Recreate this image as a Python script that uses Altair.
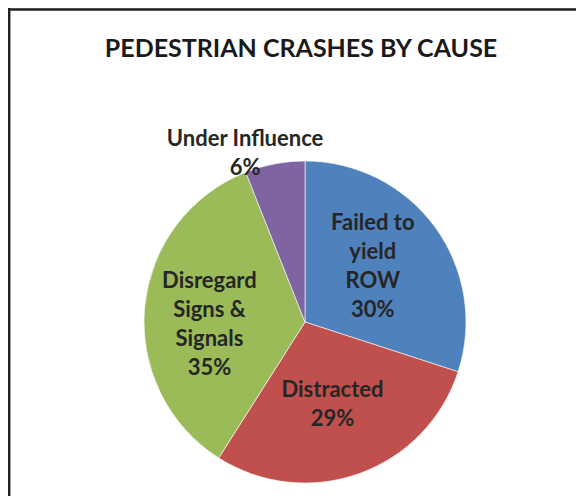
import altair as alt
import pandas as pd

causes = ["Failed to yield ROW", "Distracted", "Disregard Signs & Signals", "Under Influence"]
shares = [30, 29, 35, 6]
label_text = ["Failed to\nyield\nROW", "Distracted", "Disregard\nSigns &\nSignals", "Under Influence"]
colors = ["#4F81BD", "#C0504D", "#9BBB59", "#8064A2"]
order_idx = [0, 1, 2, 3]

df = pd.DataFrame({
    "cause": causes,
    "share": shares,
    "label": [f"{t}\n{s}%" for t, s in zip(label_text, shares)],
    "idx": order_idx,
})

W, H = 568, 488
CX, CY, R = 305 - 8, 322 - 8, 161
FONT = "Lato"

base = alt.Chart(df)

pie = base.mark_arc(x=CX, y=CY, outerRadius=R, stroke="white", strokeWidth=0.6).encode(
    theta=alt.Theta("share:Q", stack=True, scale=alt.Scale(domain=[0, 100])),
    order=alt.Order("idx:Q"),
    color=alt.Color("cause:N", scale=alt.Scale(domain=causes, range=colors), legend=None),
)

def labels(test, radius, dx=0, dy=0):
    return base.transform_window(
        cum="sum(share)", sort=[alt.SortField("idx")]
    ).transform_calculate(
        mid="datum.cum - datum.share / 2"
    ).transform_filter(test).mark_text(
        x=CX, y=CY, radius=radius, dx=dx, dy=dy, font=FONT, fontWeight="bold", fontSize=22,
        lineBreak="\n", lineHeight=29, color="#262626", align="center", baseline="middle",
    ).encode(
        theta=alt.Theta("mid:Q", stack=None, scale=alt.Scale(domain=[0, 100])),
        text="label:N",
    )

failed = labels("datum.idx == 0", 90, dx=-5, dy=-46)
distracted = labels("datum.idx == 1", 90, dx=-3, dy=-17)
disregard = labels("datum.idx == 2", 96, dy=-32)
outer = labels("datum.idx == 3", 181, dx=-26, dy=-5.5)

frame_df = alt.Chart(pd.DataFrame({"k": [0]}))
top_line = frame_df.mark_rule(color="#222222", strokeWidth=2.5).encode(
    x=alt.value(0), x2=alt.value(W), y=alt.value(1.5)
)
left_line = frame_df.mark_rule(color="#222222", strokeWidth=2.5).encode(
    x=alt.value(1.2), y=alt.value(0), y2=alt.value(H)
)

chart = alt.layer(pie, failed, distracted, disregard, outer, top_line, left_line).properties(
    width=W, height=H,
    title=alt.TitleParams(
        "PEDESTRIAN CRASHES BY CAUSE", font=FONT, fontSize=25, fontWeight="bold",
        color="#1a1a1a", anchor="middle", dy=59, dx=9,
    ),
    autosize=alt.AutoSizeParams(type="none"),
    padding=0,
).configure_view(stroke=None).configure(background="white")

chart.save("out.html", embed_options={"renderer": "svg", "actions": False})
